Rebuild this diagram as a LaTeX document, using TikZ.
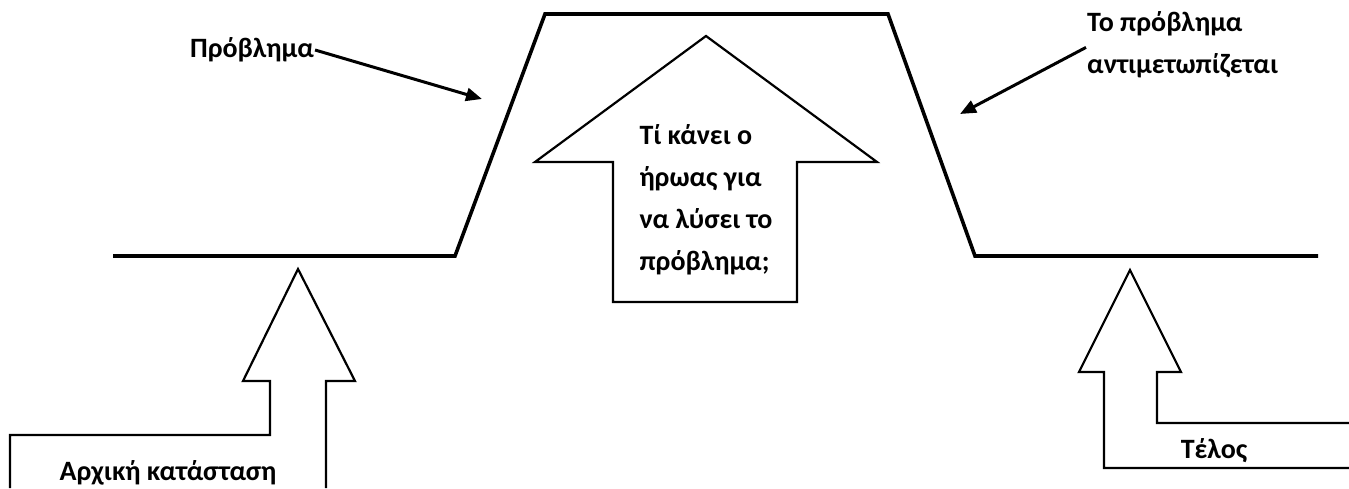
\documentclass[tikz,border=0pt]{standalone}
\usepackage{fontspec}
\setmainfont{Carlito}
\usetikzlibrary{arrows.meta}
\begin{document}
\begin{tikzpicture}[x=1pt,y=-1pt,
  plotline/.style={line width=3.6pt,line join=miter},
  blockarrow/.style={line width=2.2pt,line join=miter},
  pointer/.style={line width=3pt,-{Triangle[length=16pt,width=13pt]}},
  lbl/.style={font=\fontsize{28}{42}\selectfont\bfseries,inner sep=1pt}]
\useasboundingbox (0,0) rectangle (1349,488);
% plot line
\draw[plotline] (113,256) -- (455,256) -- (545,14) -- (888,14) -- (975,256) -- (1318,256);
% center arrow
\draw[blockarrow] (613,302) -- (613,162) -- (535,162) -- (706,36) -- (877,162) -- (797,162) -- (797,302) -- cycle;
% left bottom arrow
\draw[blockarrow] (10,488) -- (10,435) -- (270,435) -- (270,381) -- (243,381) -- (298,269) -- (355,381) -- (326,381) -- (326,488);
% right bottom arrow
\draw[blockarrow] (1349,468) -- (1104,468) -- (1104,372) -- (1079,372) -- (1130,270) -- (1181,372) -- (1157,372) -- (1157,423) -- (1349,423);
% labels
\node[lbl] (prob) at (252,50) {Πρόβλημα};
\coordinate (probtip) at (482,99);
\draw[pointer] (prob.east) -- (probtip);
\node[lbl,align=left,anchor=north west] (solved) at (1086,10) {Το πρόβλημα\\αντιμετωπίζεται};
\coordinate (solvedtip) at (960,114);
\draw[pointer] ([yshift=-3pt]solved.west) -- (solvedtip);
\node[lbl,align=left] (hero) at (706,200) {Τί κάνει ο\\ήρωας για\\να λύσει το\\πρόβλημα;};
\node[lbl] (start) at (168,473) {Αρχική κατάσταση};
\node[lbl] (end) at (1214,451) {Τέλος};
\end{tikzpicture}
\end{document}
